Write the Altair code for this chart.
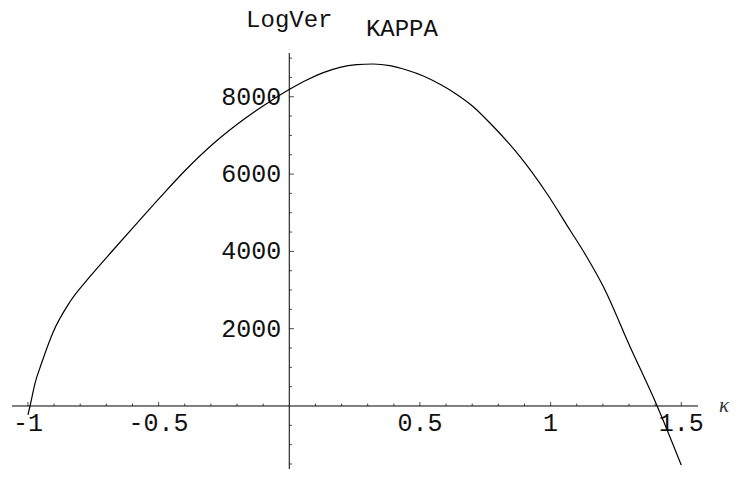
import altair as alt
import pandas as pd

# ---- data ----
kappa = [-1.0, -0.992, -0.973, -0.948, -0.903, -0.839, -0.763, -0.674, -0.584, -0.495,
         -0.406, -0.278, -0.163, -0.074, 0.003, 0.067, 0.130, 0.194, 0.258, 0.321,
         0.385, 0.449, 0.513, 0.577, 0.641, 0.704, 0.768, 0.883, 0.985,
         1.074, 1.138, 1.202, 1.304, 1.406, 1.5]
logver = [-230, 0, 587, 1104, 1922, 2698, 3345, 4036, 4720, 5390,
          6040, 6860, 7470, 7880, 8200, 8434, 8623, 8762, 8830, 8848,
          8804, 8692, 8537, 8322, 8060, 7743, 7320, 6449, 5503,
          4553, 3862, 3086, 1534, 26, -1530]

x_range = [-1.061, 1.564]
y_range = [-1630, 9132]

x_major = [-1, -0.5, 0.5, 1, 1.5]
x_major_labels = ["-1", "-0.5", "0.5", "1", "1.5"]
x_minor = [-0.9, -0.8, -0.7, -0.6, -0.4, -0.3, -0.2, -0.1, 0.1, 0.2, 0.3, 0.4,
           0.6, 0.7, 0.8, 0.9, 1.1, 1.2, 1.3, 1.4]
y_major = [2000, 4000, 6000, 8000]
y_major_labels = ["2000", "4000", "6000", "8000"]
y_minor = [-1500, -1000, -500, 500, 1000, 1500, 2500, 3000, 3500, 4500, 5000,
           5500, 6500, 7000, 7500, 8500, 9000]

y_title = "LogVer"
x_title = "\u03ba"
plot_title = "KAPPA"
title_x = 0.431

FONT = "Liberation Mono"

xs = alt.Scale(domain=x_range, nice=False, zero=False)
ys = alt.Scale(domain=y_range, nice=False, zero=False)

def X(f):
    return alt.X(f, type="quantitative", scale=xs, axis=None)

def Y(f):
    return alt.Y(f, type="quantitative", scale=ys, axis=None)

curve_df = pd.DataFrame({"k": kappa, "v": logver})
curve = alt.Chart(curve_df).mark_line(color="black", strokeWidth=1.2,
                                      interpolate="monotone").encode(
    x=X("k"), y=Y("v"), order=alt.Order("k:Q"))

xaxis = alt.Chart(pd.DataFrame({"a": [x_range[0]], "b": [x_range[1]], "y": [0]})).mark_rule(
    color="black", strokeWidth=1).encode(x=X("a"), x2="b", y=Y("y"))
yaxis = alt.Chart(pd.DataFrame({"x": [0], "a": [y_range[0]], "b": [y_range[1]]})).mark_rule(
    color="black", strokeWidth=1).encode(x=X("x"), y=Y("a"), y2="b")

xmaj = alt.Chart(pd.DataFrame({"x": x_major, "y": 0, "t": x_major_labels}))
xmin_ = alt.Chart(pd.DataFrame({"x": x_minor, "y": 0}))
ymaj = alt.Chart(pd.DataFrame({"y": y_major, "x": 0, "t": y_major_labels}))
ymin_ = alt.Chart(pd.DataFrame({"y": y_minor, "x": 0}))

xmaj_ticks = xmaj.mark_tick(orient="vertical", size=4, thickness=1, color="black",
                            yOffset=-2).encode(x=X("x"), y=Y("y"))
xmin_ticks = xmin_.mark_tick(orient="vertical", size=2.5, thickness=1, color="black",
                             yOffset=-1.25).encode(x=X("x"), y=Y("y"))
ymaj_ticks = ymaj.mark_tick(orient="horizontal", size=4.7, thickness=1, color="black",
                            xOffset=2.35).encode(x=X("x"), y=Y("y"))
ymin_ticks = ymin_.mark_tick(orient="horizontal", size=2.7, thickness=1, color="black",
                             xOffset=1.35).encode(x=X("x"), y=Y("y"))

xlabels = xmaj.mark_text(font=FONT, fontSize=25, color="#111111", baseline="alphabetic",
                         align="center", dy=25).encode(x=X("x"), y=Y("y"), text="t")
ylabels = ymaj.mark_text(font=FONT, fontSize=25, color="#111111", baseline="middle",
                         align="right", dx=-8).encode(x=X("x"), y=Y("y"), text="t")

titles_df = pd.DataFrame({
    "x": [0, title_x],
    "y": [y_range[1], y_range[1]],
    "t": [y_title, plot_title],
})
ytitle = alt.Chart(titles_df.iloc[[0]]).mark_text(
    font=FONT, fontSize=24, color="#111111", baseline="alphabetic", align="center", dy=-26
).encode(x=X("x"), y=Y("y"), text="t")
ptitle = alt.Chart(titles_df.iloc[[1]]).mark_text(
    font=FONT, fontSize=24, color="#111111", baseline="alphabetic", align="center", dy=-17
).encode(x=X("x"), y=Y("y"), text="t")
xtitle = alt.Chart(pd.DataFrame({"x": [x_range[1]], "y": [0], "t": [x_title]})).mark_text(
    font="Liberation Serif", fontStyle="italic", fontSize=21, color="#333333",
    baseline="middle", align="left", dx=21
).encode(x=X("x"), y=Y("y"), text="t")

chart = alt.layer(
    xaxis, yaxis, xmin_ticks, xmaj_ticks, ymin_ticks, ymaj_ticks,
    xlabels, ylabels, ytitle, ptitle, xtitle, curve
).properties(
    width=686, height=416,
    autosize=alt.AutoSizeParams(type="none"),
    padding={"left": 4, "top": 45, "right": 34, "bottom": 0},
    background="white",
).configure_view(stroke=None)

chart.save("out.html", embed_options={"renderer": "svg", "actions": False})
